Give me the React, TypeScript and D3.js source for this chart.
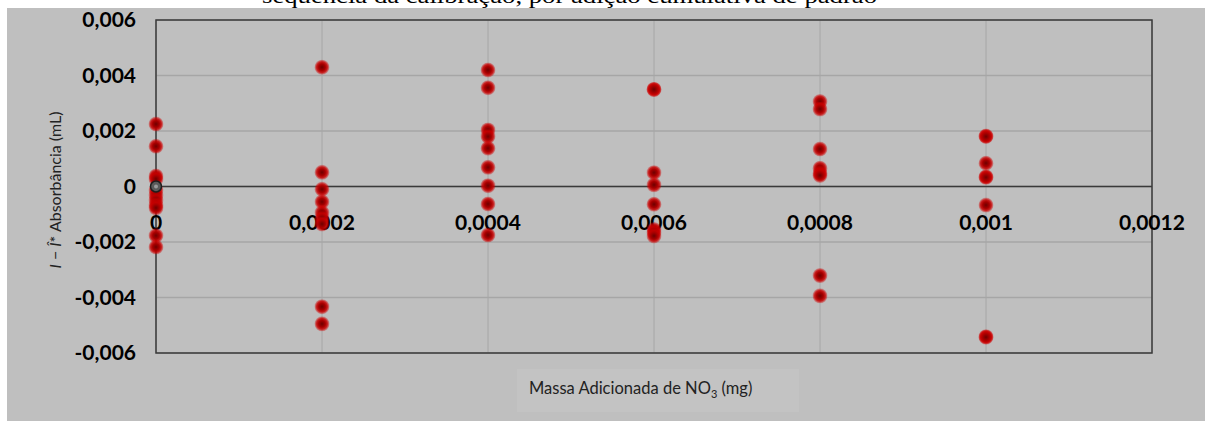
import React from 'react';
import * as d3 from 'd3';

// residuals per added mass level
const xLevels = [0, 0.0002, 0.0004, 0.0006, 0.0008, 0.001];
const residuals: number[][] = [
  [0.00225, 0.00145, 0.00038, 0.00027, -0.00013, -0.00031, -0.00049, -0.00067, -0.00077, -0.00177, -0.00218],
  [0.0043, 0.00051, -0.0001, -0.00055, -0.00094, -0.00115, -0.00135, -0.00433, -0.00495],
  [0.0042, 0.00356, 0.00204, 0.0018, 0.00138, 0.00069, 0.00003, -0.00063, -0.00175],
  [0.0035, 0.0035, 0.0005, 0.00006, -0.00064, -0.00155, -0.00165, -0.00178],
  [0.00306, 0.00279, 0.00135, 0.00066, 0.00048, 0.0004, -0.00321, -0.00394],
  [0.00182, 0.0018, 0.00084, 0.00035, 0.00033, -0.00067, -0.00541, -0.00543],
];
const origin = [{ x: 0, y: 0 }];

const xTicks = [0, 0.0002, 0.0004, 0.0006, 0.0008, 0.001, 0.0012];
const xTickLabels = ['0', '0,0002', '0,0004', '0,0006', '0,0008', '0,001', '0,0012'];
const yTicks = [0.006, 0.004, 0.002, 0, -0.002, -0.004, -0.006];
const yTickLabels = ['0,006', '0,004', '0,002', '0', '-0,002', '-0,004', '-0,006'];

const W = 1205;
const H = 421;
const plot = { left: 156, right: 1152, top: 20, bottom: 353 };

const App = () => {
  const x = d3.scaleLinear().domain([0, 0.0012]).range([plot.left, plot.right]);
  const y = d3.scaleLinear().domain([-0.006, 0.006]).range([plot.bottom, plot.top]);

  const points = xLevels.flatMap((xv, i) => residuals[i].map(v => ({ x: xv, y: v })));
  const tickFont = 'Lato, "Open Sans", sans-serif';

  return (
    <div style={{ position: 'fixed', left: 0, top: 0 }}>
      <svg width={W} height={H} style={{ display: 'block', background: '#fff' }}>
        <defs>
          <radialGradient id="dot">
            <stop offset="0%" stopColor="#6e0000" />
            <stop offset="45%" stopColor="#a80000" />
            <stop offset="72%" stopColor="#c80000" stopOpacity={0.85} />
            <stop offset="100%" stopColor="#d40000" stopOpacity={0.2} />
          </radialGradient>
        </defs>

        {/* title line, mostly hidden under the chart area as in the source */}
        <text
          x={262}
          y={3}
          textLength={615}
          lengthAdjust="spacingAndGlyphs"
          fontFamily='"Liberation Serif", "Times New Roman", serif'
          fontSize={22}
          fill="#000"
        >
          sequência da calibração, por adição cumulativa de padrão
        </text>

        <rect x={7} y={8} width={W - 7} height={H - 8} fill="#bfbfbf" />

        {/* grid */}
        {yTicks.map(t => (
          <line key={'gy' + t} x1={plot.left} x2={plot.right} y1={y(t)} y2={y(t)} stroke="#a6a6a6" strokeWidth={1.3} />
        ))}
        {xTicks.map(t => (
          <line key={'gx' + t} x1={x(t)} x2={x(t)} y1={plot.top} y2={plot.bottom} stroke="#a6a6a6" strokeWidth={1} />
        ))}

        {/* frame and axes */}
        <rect
          x={plot.left}
          y={plot.top}
          width={plot.right - plot.left}
          height={plot.bottom - plot.top}
          fill="none"
          stroke="#3a3a3a"
          strokeWidth={1.5}
        />
        <line x1={plot.left} x2={plot.right} y1={y(0)} y2={y(0)} stroke="#3a3a3a" strokeWidth={1.5} />

        {/* y tick labels */}
        {yTicks.map((t, i) => (
          <text
            key={'yl' + t}
            x={136}
            y={y(t) + 7}
            textAnchor="end"
            fontFamily={tickFont}
            fontWeight={700}
            fontSize={21}
            fill="#000"
          >
            {yTickLabels[i]}
          </text>
        ))}

        {/* x tick labels */}
        {xTicks.map((t, i) => (
          <text
            key={'xl' + t}
            x={x(t)}
            y={230}
            textAnchor="middle"
            fontFamily={tickFont}
            fontWeight={700}
            fontSize={21}
            fill="#000"
          >
            {xTickLabels[i]}
          </text>
        ))}

        {/* points */}
        {points.map((p, i) => (
          <circle key={'p' + i} cx={x(p.x)} cy={y(p.y)} r={7.5} fill="url(#dot)" />
        ))}
        {origin.map((p, i) => (
          <g key={'o' + i}>
            <circle cx={x(p.x)} cy={y(p.y)} r={5.5} fill="#5a5a5a" stroke="#1e1e1e" strokeWidth={1.5} />
            <circle cx={x(p.x)} cy={y(p.y)} r={2} fill="#9a9a9a" />
          </g>
        ))}

        {/* y axis title */}
        <text
          transform="translate(61,190) rotate(-90)"
          textAnchor="middle"
          fontFamily={tickFont}
          fontSize={16}
          fill="#222"
        >
          <tspan fontStyle="italic">I</tspan>
          <tspan>{' − '}</tspan>
          <tspan fontStyle="italic">Î</tspan>
          <tspan>* Absorbância (mL)</tspan>
        </text>

        {/* x axis title */}
        <rect x={517} y={369} width={282} height={43} fill="#c3c3c3" />
        <text x={529} y={394} fontFamily={tickFont} fontSize={16.5} fill="#222">
          Massa Adicionada de NO
          <tspan fontSize={11} dy={4}>3</tspan>
          <tspan dy={-4}> (mg)</tspan>
        </text>
      </svg>
    </div>
  );
};

export default App;
